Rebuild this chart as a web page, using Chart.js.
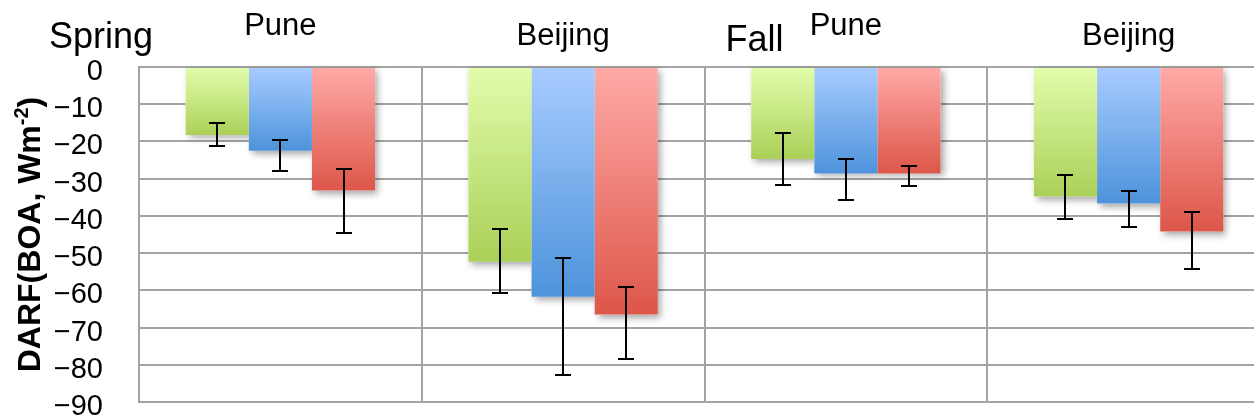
<!DOCTYPE html>
<html>
<head>
<meta charset="utf-8">
<script src="https://cdn.jsdelivr.net/npm/chart.js@4/dist/chart.umd.min.js"></script>
<style>
  html, body { margin: 0; padding: 0; background: #fff; overflow: hidden; }
  #wrap { width: 1274px; height: 418px; }
</style>
</head>
<body>
<div id="wrap"><canvas id="c" width="1274" height="418"></canvas></div>
<script>
// Sites along the x axis, with the season each half belongs to
const categories = ['Pune', 'Beijing', 'Pune', 'Beijing'];
const seasons = [
  { label: 'Spring', at: 0 },
  { label: 'Fall', at: 2 }
];

// DARF at the bottom of the atmosphere (W m-2), three series per site
const seriesGreen = [-18.3, -52.3, -24.7, -34.8];
const seriesBlue  = [-22.5, -61.7, -28.6, -36.7];
const seriesRed   = [-33.2, -66.5, -28.6, -44.2];

// Error bar ends (upper / lower) for each series
const greenErrUpper = [-15.0, -43.6, -17.6, -29.0];
const greenErrLower = [-21.3, -60.7, -31.6, -40.8];
const blueErrUpper  = [-19.5, -51.3, -24.8, -33.2];
const blueErrLower  = [-28.0, -82.7, -35.8, -42.9];
const redErrUpper   = [-27.4, -59.0, -26.6, -39.0];
const redErrLower   = [-44.5, -78.4, -31.9, -54.3];

// Y axis ticks
const yTicks = [0, -10, -20, -30, -40, -50, -60, -70, -80, -90];

Chart.defaults.font.family = "'Liberation Sans', Arial, sans-serif";
Chart.defaults.color = '#000';

// Vertical gradient per bar, light at the zero line, saturated at the bar end
function gradientFill(light, dark) {
  return (c) => {
    const chart = c.chart;
    if (c.type !== 'data' || !chart.chartArea) return dark;
    const y = chart.scales.y;
    const y0 = y.getPixelForValue(0);
    const y1 = y.getPixelForValue(c.raw);
    if (Math.abs(y1 - y0) < 1) return dark;
    const g = chart.ctx.createLinearGradient(0, y0, 0, y1);
    g.addColorStop(0, light);
    g.addColorStop(1, dark);
    return g;
  };
}

// Soft drop shadows are laid down first, bars cover them, error bars go on top
const barDecor = {
  id: 'barDecor',
  beforeDatasetsDraw(chart) {
    const ctx = chart.ctx;
    ctx.save();
    ctx.shadowColor = 'rgba(0,0,0,0.35)';
    ctx.shadowBlur = 7;
    ctx.shadowOffsetX = 3;
    ctx.shadowOffsetY = 3;
    ctx.fillStyle = '#fff';
    chart.data.datasets.forEach((ds, di) => {
      chart.getDatasetMeta(di).data.forEach((bar) => {
        const p = bar.getProps(['x', 'y', 'base', 'width'], true);
        const top = Math.min(p.y, p.base), h = Math.abs(p.base - p.y);
        ctx.fillRect(p.x - p.width / 2, top, p.width, h);
      });
    });
    ctx.restore();
  },
  afterDatasetsDraw(chart) {
    const ctx = chart.ctx;
    const y = chart.scales.y;
    ctx.save();
    ctx.strokeStyle = '#000';
    ctx.lineWidth = 2;
    const cap = 8;
    chart.data.datasets.forEach((ds, di) => {
      chart.getDatasetMeta(di).data.forEach((bar, i) => {
        const x = Math.round(bar.x);
        const yu = Math.round(y.getPixelForValue(ds.errUpper[i]));
        const yl = Math.round(y.getPixelForValue(ds.errLower[i]));
        ctx.beginPath();
        ctx.moveTo(x, yu); ctx.lineTo(x, yl);
        ctx.moveTo(x - cap, yu); ctx.lineTo(x + cap, yu);
        ctx.moveTo(x - cap, yl); ctx.lineTo(x + cap, yl);
        ctx.stroke();
      });
    });
    ctx.restore();
  }
};

// Site names above each group, season names and the y axis title
const annotations = {
  id: 'annotations',
  afterDraw(chart, args, opts) {
    const ctx = chart.ctx;
    const xs = chart.scales.x;
    const area = chart.chartArea;
    ctx.save();
    ctx.fillStyle = '#000';
    ctx.textBaseline = 'alphabetic';

    ctx.font = "31px 'Liberation Sans', Arial, sans-serif";
    ctx.textAlign = 'center';
    categories.forEach((name, i) => {
      ctx.fillText(name, xs.getPixelForValue(i), opts.siteBaseline[name]);
    });

    ctx.font = "36px 'Liberation Sans', Arial, sans-serif";
    ctx.textAlign = 'left';
    seasons.forEach((s, k) => {
      const left = xs.getPixelForValue(s.at) - xs.width / categories.length / 2;
      const pos = opts.seasonPos[k];
      ctx.fillText(s.label, left + pos.dx, pos.baseline);
    });

    // Rotated axis title with superscript exponent
    const mainFont = "bold 32px 'Liberation Sans', Arial, sans-serif";
    const supFont = "bold 20px 'Liberation Sans', Arial, sans-serif";
    const p1 = 'DARF(BOA, Wm', sup = '-2', p2 = ')';
    ctx.font = mainFont;
    const w1 = ctx.measureText(p1).width, w3 = ctx.measureText(p2).width;
    ctx.font = supFont;
    const w2 = ctx.measureText(sup).width;
    const total = w1 + w2 + w3;
    ctx.translate(opts.titleX, (area.top + area.bottom) / 2);
    ctx.rotate(-Math.PI / 2);
    let x = -total / 2;
    ctx.font = mainFont; ctx.fillText(p1, x, 0); x += w1;
    ctx.font = supFont; ctx.fillText(sup, x, -12); x += w2;
    ctx.font = mainFont; ctx.fillText(p2, x, 0);
    ctx.restore();
  }
};

new Chart(document.getElementById('c'), {
  type: 'bar',
  data: {
    labels: categories,
    datasets: [
      { data: seriesGreen, errUpper: greenErrUpper, errLower: greenErrLower,
        backgroundColor: gradientFill('#e2fdac', '#abd058') },
      { data: seriesBlue, errUpper: blueErrUpper, errLower: blueErrLower,
        backgroundColor: gradientFill('#a8ccff', '#4d93db') },
      { data: seriesRed, errUpper: redErrUpper, errLower: redErrLower,
        backgroundColor: gradientFill('#ffaaa7', '#dd5649') }
    ]
  },
  options: {
    responsive: false,
    animation: false,
    devicePixelRatio: 1,
    layout: { padding: { top: 67, bottom: 16, left: 0, right: 4 } },
    datasets: {
      bar: { categoryPercentage: 0.67, barPercentage: 1.0, borderWidth: 0 }
    },
    plugins: {
      legend: { display: false },
      tooltip: { enabled: false },
      annotations: {
        siteBaseline: { Pune: 35, Beijing: 45 },
        seasonPos: [ { dx: -90, baseline: 48 }, { dx: 21, baseline: 51 } ],
        titleX: 40
      }
    },
    scales: {
      x: {
        grid: { offset: true, color: '#a3a3a3', lineWidth: 2, drawTicks: false },
        border: { display: true, color: '#a3a3a3', width: 2 },
        ticks: { display: false },
        afterFit(s) { s.height = 0; }
      },
      y: {
        min: -90, max: 0,
        afterBuildTicks(s) { s.ticks = yTicks.map(v => ({ value: v })); },
        grid: { color: '#a3a3a3', lineWidth: 2, drawTicks: false },
        border: { display: true, color: '#a3a3a3', width: 2 },
        ticks: {
          padding: 36,
          labelOffset: 5,
          font: { size: 29, lineHeight: 1 },
          color: '#000',
          callback: (v) => String(v).replace('-', '\u2212')
        },
        afterFit(s) { s.width = 139; s.paddingTop = 0; s.paddingBottom = 0; }
      }
    }
  },
  plugins: [barDecor, annotations]
});
</script>
</body>
</html>
